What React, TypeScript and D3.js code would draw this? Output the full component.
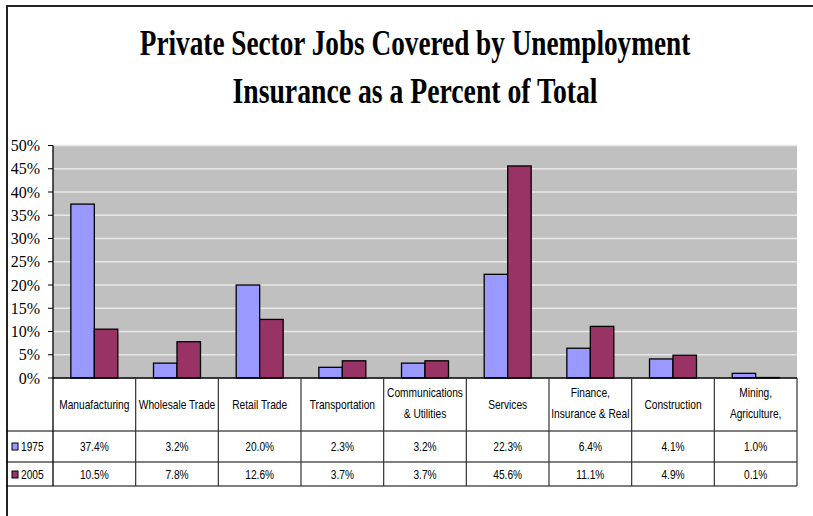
import React from "react";
import * as d3 from "d3";

const categories = [
  "Manuafacturing",
  "Wholesale Trade",
  "Retail Trade",
  "Transportation",
  "Communications & Utilities",
  "Services",
  "Finance, Insurance & Real",
  "Construction",
  "Mining, Agriculture,",
];
const categoryLines = [
  ["Manuafacturing"],
  ["Wholesale Trade"],
  ["Retail Trade"],
  ["Transportation"],
  ["Communications", "& Utilities"],
  ["Services"],
  ["Finance,", "Insurance & Real"],
  ["Construction"],
  ["Mining,", "Agriculture,"],
];
const seriesNames = ["1975", "2005"];
const values1975 = [37.4, 3.2, 20.0, 2.3, 3.2, 22.3, 6.4, 4.1, 1.0];
const values2005 = [10.5, 7.8, 12.6, 3.7, 3.7, 45.6, 11.1, 4.9, 0.1];
const yTicks = [0, 5, 10, 15, 20, 25, 30, 35, 40, 45, 50];
const titleLines = [
  "Private Sector Jobs Covered by Unemployment",
  "Insurance as a Percent of Total",
];
const colors = ["#9999FF", "#993366"];

const W = 813;
const H = 516;
const plotL = 53;
const plotR = 797;
const plotT = 145.5;
const plotB = 378;
const rowHeader = 431;
const row1 = 462;
const row2 = 486;
const frameL = 7;
const SX = 0.85;

function NarrowText({ x, y, children, anchor = "middle", size = 12 }: any) {
  return (
    <text
      transform={`translate(${x},${y}) scale(${SX},1)`}
      textAnchor={anchor}
      fontFamily="'Liberation Sans', Arial, sans-serif"
      fontSize={size}
      fill="#000"
    >
      {children}
    </text>
  );
}

export default function App() {
  const x0 = d3.scaleBand<string>().domain(categories).range([plotL, plotR]);
  const bw = x0.bandwidth();
  const x1 = d3
    .scaleBand<string>()
    .domain(seriesNames)
    .range([0, bw])
    .paddingInner(0)
    .paddingOuter(0.76);
  const y = d3.scaleLinear().domain([0, 50]).range([plotB, plotT]);
  const series = [values1975, values2005];
  const fmt = (v: number) => d3.format(".1f")(v) + "%";

  return (
    <svg
      width={W}
      height={H}
      style={{ position: "absolute", left: 0, top: 0, background: "#fff" }}
    >
      {/* frame */}
      <line x1={frameL} x2={W} y1={6} y2={6} stroke="#222" strokeWidth={2} />
      <line x1={frameL} x2={frameL} y1={5} y2={H} stroke="#222" strokeWidth={2} />

      {/* title */}
      {titleLines.map((t, i) => (
        <text
          key={i}
          transform={`translate(415,${i === 0 ? 55 : 103}) scale(${i === 0 ? 0.757 : 0.77},1)`}
          textAnchor="middle"
          fontFamily="'Liberation Serif', 'Times New Roman', serif"
          fontWeight="bold"
          fontSize={36}
        >
          {t}
        </text>
      ))}

      {/* plot background */}
      <rect x={plotL} y={plotT} width={plotR - plotL} height={plotB - plotT} fill="#C0C0C0" />
      {yTicks.slice(1).map((t) => (
        <line key={t} x1={plotL} x2={plotR} y1={y(t)} y2={y(t)} stroke="#E8E8E8" strokeWidth={1.3} />
      ))}

      {/* bars */}
      {categories.map((c, i) => (
        <g key={c} transform={`translate(${x0(c)},0)`}>
          {seriesNames.map((s, j) => (
            <rect
              key={s}
              x={x1(s)}
              y={y(series[j][i])}
              width={x1.bandwidth()}
              height={plotB - y(series[j][i])}
              fill={colors[j]}
              stroke="#000"
              strokeWidth={1.3}
            />
          ))}
        </g>
      ))}

      {/* y axis */}
      <line x1={plotL} x2={plotL} y1={plotT} y2={row2} stroke="#000" strokeWidth={1.3} />
      {yTicks.map((t) => (
        <g key={t}>
          <line x1={plotL - 5} x2={plotL} y1={y(t)} y2={y(t)} stroke="#000" strokeWidth={1} />
          <text
            x={40}
            y={y(t)}
            dy="0.35em"
            textAnchor="end"
            fontFamily="'Liberation Serif', 'Times New Roman', serif"
            fontSize={16}
          >
            {t + "%"}
          </text>
        </g>
      ))}

      {/* table lines */}
      <line x1={plotL} x2={plotR} y1={plotB} y2={plotB} stroke="#000" strokeWidth={1.3} />
      <line x1={frameL} x2={plotR} y1={rowHeader} y2={rowHeader} stroke="#000" strokeWidth={1.2} />
      <line x1={frameL} x2={plotR} y1={row1} y2={row1} stroke="#000" strokeWidth={1.2} />
      <line x1={frameL} x2={plotR} y1={row2} y2={row2} stroke="#000" strokeWidth={1.2} />
      {categories.map((c) => (
        <line
          key={c}
          x1={(x0(c) as number) + bw}
          x2={(x0(c) as number) + bw}
          y1={plotB}
          y2={row2}
          stroke="#333"
          strokeWidth={1.2}
        />
      ))}

      {/* category labels */}
      {categories.map((c, i) => {
        const cx = (x0(c) as number) + bw / 2;
        const lines = categoryLines[i];
        return (
          <g key={c}>
            {lines.map((ln, k) => (
              <NarrowText
                key={k}
                x={cx}
                y={lines.length === 1 ? 409 : 397 + k * 21}
              >
                {ln}
              </NarrowText>
            ))}
          </g>
        );
      })}

      {/* values rows */}
      {series.map((vals, j) => {
        const yy = j === 0 ? 451 : 479;
        return (
          <g key={j}>
            <rect x={12} y={yy - 8} width={6} height={7} fill={colors[j]} stroke="#000" strokeWidth={1} />
            <NarrowText x={21} y={yy} anchor="start">
              {seriesNames[j]}
            </NarrowText>
            {categories.map((c, i) => (
              <NarrowText key={c} x={(x0(c) as number) + bw / 2} y={yy}>
                {fmt(vals[i])}
              </NarrowText>
            ))}
          </g>
        );
      })}
    </svg>
  );
}
